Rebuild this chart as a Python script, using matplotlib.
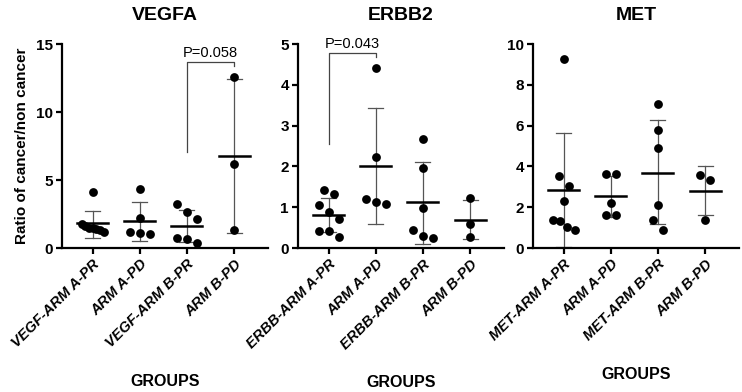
import numpy as np
import matplotlib
matplotlib.use("Agg")
from matplotlib import pyplot as plt

plt.rcParams['font.family'] = ['Liberation Sans', 'DejaVu Sans']

# group labels per panel
vegf_groups = ['VEGF-ARM A-PR', 'ARM A-PD', 'VEGF-ARM B-PR', 'ARM B-PD']
erbb_groups = ['ERBB-ARM A-PR', 'ARM A-PD', 'ERBB-ARM B-PR', 'ARM B-PD']
met_groups = ['MET-ARM A-PR', 'ARM A-PD', 'MET-ARM B-PR', 'ARM B-PD']

# individual ratios
vegf_vals = [
    [4.1, 1.75, 1.6, 1.5, 1.45, 1.4, 1.35, 1.2],
    [4.37, 2.17, 1.15, 1.1, 1.05],
    [3.2, 2.62, 2.12, 0.76, 0.64, 0.39],
    [12.6, 6.2, 1.35],
]
erbb_vals = [
    [1.41, 1.33, 1.06, 0.88, 0.71, 0.42, 0.41, 0.26],
    [4.4, 2.23, 1.21, 1.13, 1.08],
    [2.67, 1.97, 0.98, 0.45, 0.30, 0.24],
    [1.22, 0.60, 0.28],
]
met_vals = [
    [9.27, 3.51, 3.05, 2.28, 1.35, 1.31, 1.03, 0.86],
    [3.62, 3.62, 2.23, 1.60, 1.60],
    [7.05, 5.79, 4.88, 2.12, 1.39, 0.90],
    [3.56, 3.34, 1.39],
]

# mean and SD bars as drawn
vegf_mean = [1.81, 1.98, 1.64, 6.76]
vegf_lo = [0.76, 0.54, 0.46, 1.07]
vegf_hi = [2.71, 3.39, 2.83, 12.4]
erbb_mean = [0.80, 2.01, 1.12, 0.69]
erbb_lo = [0.38, 0.59, 0.10, 0.21]
erbb_hi = [1.22, 3.43, 2.10, 1.17]
met_mean = [2.85, 2.53, 3.70, 2.79]
met_lo = [0.05, 1.52, 1.17, 1.60]
met_hi = [5.63, 3.51, 6.25, 4.00]

titles = ['VEGFA', 'ERBB2', 'MET']
ymax = [15, 5, 10]
ystep = [5, 1, 2]

# significance brackets: (left group, right group, start of left leg, top, end of right leg, text)
brackets = [
    (2, 3, 7.05, 13.65, 13.4, 'P=0.058'),
    (0, 1, 2.55, 4.77, 4.67, 'P=0.043'),
    None,
]


def swarm(ax, x0, vals):
    """place points in rows like a column scatter, returns x positions"""
    order = np.argsort(vals)[::-1]
    ypx = ax.transData.transform(np.column_stack([np.zeros(len(vals)), vals]))[:, 1]
    xpx0 = ax.transData.transform((x0, 0))[0]
    rows = []
    for i in order:
        if rows and abs(ypx[rows[-1][-1]] - ypx[i]) < 10.5:
            rows[-1].append(i)
        else:
            rows.append([i])
    xs = np.zeros(len(vals))
    for r in rows:
        n = len(r)
        sp = 10.0 if n < 2 else min(10.0, 22.0 / (n - 1))
        for k, i in enumerate(r):
            px = xpx0 + (k - (n - 1) / 2) * sp
            xs[i] = ax.transData.inverted().transform((px, ypx[i]))[0]
    return xs


fig = plt.figure(figsize=(7.42, 3.92), dpi=100)
lefts = [62 / 742, 298 / 742, 533 / 742]
panels = [
    (vegf_groups, vegf_vals, vegf_mean, vegf_lo, vegf_hi),
    (erbb_groups, erbb_vals, erbb_mean, erbb_lo, erbb_hi),
    (met_groups, met_vals, met_mean, met_lo, met_hi),
]
for p, (groups, vals, mean, lo, hi) in enumerate(panels):
    ax = fig.add_axes([lefts[p], 1 - 248 / 392, 206 / 742, 204 / 392])
    ax.set_xlim(-0.65, 3.72)
    ax.set_ylim(0, ymax[p])
    for g in range(4):
        xs = swarm(ax, g, vals[g])
        ax.scatter(xs, vals[g], s=40, color='black', zorder=3, linewidths=0)
        ax.plot([g, g], [lo[g], hi[g]], color='#555555', lw=0.9, zorder=2)
        ax.plot([g - 0.16, g + 0.16], [lo[g], lo[g]], color='#555555', lw=0.9, zorder=2)
        ax.plot([g - 0.16, g + 0.16], [hi[g], hi[g]], color='#555555', lw=0.9, zorder=2)
        ax.plot([g - 0.33, g + 0.33], [mean[g], mean[g]], color='black', lw=1.8, zorder=4)
    b = brackets[p]
    if b is not None:
        ax.plot([b[0], b[0], b[1], b[1]], [b[2], b[3], b[3], b[4]],
                color='#444444', lw=0.9, clip_on=False)
        ax.annotate(b[5], ((b[0] + b[1]) / 2, b[3]), xytext=(0, 2), textcoords='offset points',
                    ha='center', va='bottom', fontsize=10.5, annotation_clip=False)
    ax.set_yticks(np.arange(0, ymax[p] + 0.1, ystep[p]))
    ax.set_xticks(range(4))
    ax.set_xticklabels(groups, rotation=45, ha='right', rotation_mode='anchor',
                       fontsize=10.5, fontweight='bold', fontstyle='italic')
    for t in ax.get_yticklabels():
        t.set_fontweight('bold')
        t.set_fontsize(11)
    ax.spines['top'].set_visible(False)
    ax.spines['right'].set_visible(False)
    ax.spines['left'].set_linewidth(1.6)
    ax.spines['bottom'].set_linewidth(1.6)
    ax.tick_params(axis='both', width=1.6, length=4.5, pad=2)
    ax.set_title(titles[p], fontsize=14, fontweight='bold', pad=17)
    ax.set_xlabel('GROUPS', fontsize=11.5, fontweight='bold', labelpad=17)
    if p == 0:
        ax.set_ylabel('Ratio of cancer/non cancer', fontsize=11, fontweight='bold', labelpad=5)

fig.savefig('out.png', dpi=100)
